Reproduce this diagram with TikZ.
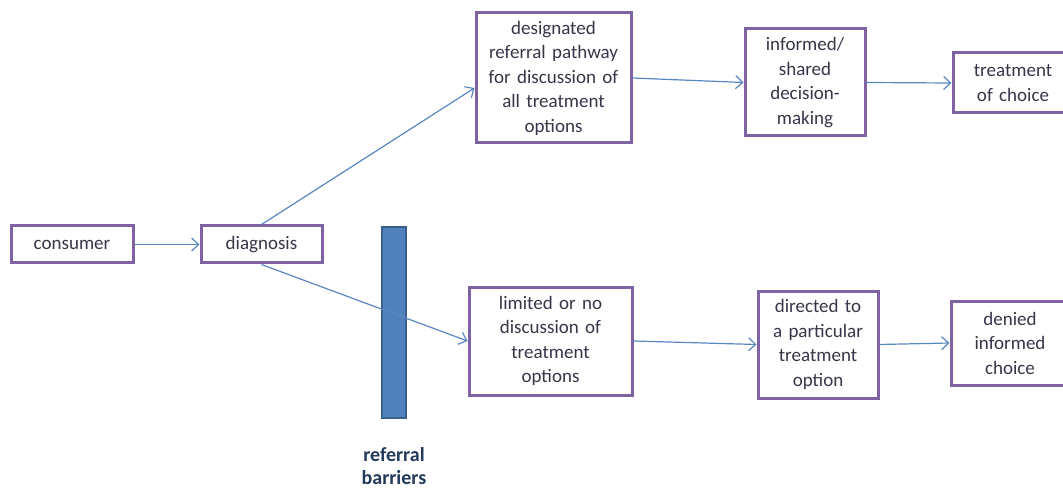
\documentclass[tikz,border=0pt]{standalone}
\usepackage{fontspec}
\setmainfont{Carlito}
\usetikzlibrary{arrows.meta}
\definecolor{boxpurple}{HTML}{7F62A1}
\definecolor{txtgrey}{HTML}{36364A}
\definecolor{arrowblue}{HTML}{5A86C2}
\definecolor{barblue}{HTML}{4F81BD}
\definecolor{bardark}{HTML}{3A5F8C}
\definecolor{navy}{HTML}{243A5C}
\begin{document}
\begin{tikzpicture}[x=1pt, y=1pt,
    box/.style={draw=boxpurple, line width=3pt, fill=white, text=txtgrey,
        align=center, inner sep=2pt, font=\fontsize{19}{24.5}\selectfont},
    link/.style={draw=arrowblue, line width=1.2pt,
        -{Straight Barb[length=7pt, width=13pt, line width=1.2pt]}}]
    \clip (0,0) rectangle (1063,488);
    \fill[white] (0,0) rectangle (1063,488);

    % Entrada
    \node[box, minimum width=122, minimum height=37] (consumer) at (72,243.5) {consumer};
    \node[box, minimum width=121, minimum height=37] (diag) at (261.5,243.5) {diagnosis};

    % Via designada
    \node[box, minimum width=155, minimum height=130, text width=148] (desig) at (553.5,410)
        {designated\\referral pathway\\for discussion of\\all treatment\\options};
    \node[box, minimum width=120, minimum height=107, text width=110] (shared) at (805,405.5)
        {informed/\\shared\\decision-\\making};
    \node[box, minimum width=120, minimum height=60, text width=110] (choice) at (1013,405)
        {treatment\\of choice};

    % Barreira
    \draw[fill=barblue, draw=bardark, line width=1.5pt] (382,70) rectangle (406,261);
    \node[navy, align=center, inner sep=0pt, font=\fontsize{20}{23}\selectfont\bfseries] (barriers) at (394,22)
        {referral\\barriers};

    % Via limitada
    \node[box, minimum width=163, minimum height=108, text width=150] (limited) at (550.5,147)
        {limited or no\\discussion of\\treatment\\options};
    \node[box, minimum width=120, minimum height=107, text width=110] (directed) at (818,143.5)
        {directed to\\a particular\\treatment\\option};
    \node[box, minimum width=118, minimum height=84, text width=108] (denied) at (1010,145)
        {denied\\informed\\choice};

    % Ligações
    \draw[link] (consumer) -- (diag);
    \draw[link] (diag.north) -- ([yshift=-10pt]desig.west);
    \draw[link] (diag.south) -- (limited.west);
    \draw[link] (desig.east) -- (shared.west);
    \draw[link] (shared.east) -- (choice.west);
    \draw[link] (limited.east) -- (directed.west);
    \draw[link] (directed.east) -- (denied.west);
\end{tikzpicture}
\end{document}
